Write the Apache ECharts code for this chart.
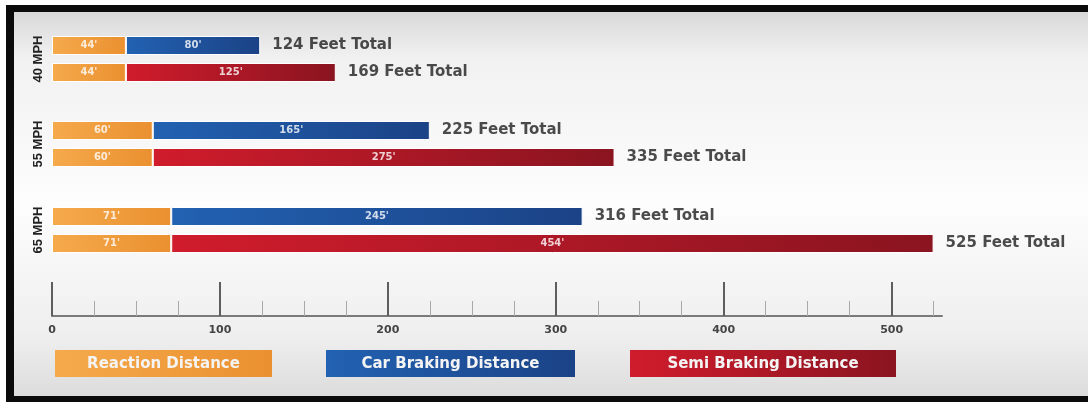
<!DOCTYPE html>
<html>
<head>
<meta charset="utf-8">
<script src="https://cdn.jsdelivr.net/npm/echarts@6/dist/echarts.min.js"></script>
<style>
html, body { margin: 0; padding: 0; background: #fff; }
#chart { width: 1088px; height: 402px; }
</style>
</head>
<body>
<div id="chart"></div>
<script>
"use strict";

var speeds = ['40 MPH', '55 MPH', '65 MPH'];
var vehicles = ['Car', 'Semi'];
var reaction = [44, 60, 71];
var carBraking = [80, 165, 245];
var semiBraking = [125, 275, 454];
var carTotal = [124, 225, 316];
var semiTotal = [169, 335, 525];
var majorTicks = [0, 100, 200, 300, 400, 500];
var minorTicks = [25, 50, 75, 125, 150, 175, 225, 250, 275, 325, 350, 375, 425, 450, 475, 525];
var legendNames = ['Reaction Distance', 'Car Braking Distance', 'Semi Braking Distance'];

var AXIS_MAX = 530;
var GRID_LEFT = 52;
var GRID_WIDTH = 890;
var GROUP_TOPS = [32, 117, 203];

function grad(c0, c1) {
	return new echarts.graphic.LinearGradient(0, 0, 1, 0, [
		{ offset: 0, color: c0 },
		{ offset: 1, color: c1 }
	]);
}

var ORANGE = ['#f5aa4c', '#ea9030'];
var BLUE = ['#2262b2', '#1b4286'];
var RED = ['#d01c2c', '#8a1420'];
var colorSets = [ORANGE, BLUE, RED];

function inLabel(p) {
	return p.value + "'";
}

var grids = [], xAxes = [], yAxes = [], series = [];

for (var i = 0; i < speeds.length; i++) {
	grids.push({ left: GRID_LEFT, width: GRID_WIDTH, top: GROUP_TOPS[i], height: 54 });
	xAxes.push({ type: 'value', gridIndex: i, min: 0, max: AXIS_MAX, show: false });
	yAxes.push({
		type: 'category', gridIndex: i, data: vehicles, inverse: true,
		axisLine: { show: false }, axisTick: { show: false }, axisLabel: { show: false },
		name: speeds[i], nameLocation: 'middle', nameRotate: 90, nameGap: 7,
		nameTextStyle: { color: '#222', fontWeight: 'bold', fontSize: 13, fontFamily: 'Liberation Sans' }
	});

	var barLabel = {
		show: true, position: 'inside', formatter: inLabel,
		color: 'rgba(255,255,255,0.8)', fontWeight: 'bold', fontSize: 10, fontFamily: 'DejaVu Sans'
	};

	series.push({
		name: legendNames[0], type: 'bar', xAxisIndex: i, yAxisIndex: i, stack: 'g' + i,
		barWidth: 19, data: [reaction[i], reaction[i]], label: barLabel,
		itemStyle: { color: grad(ORANGE[0], ORANGE[1]), borderColor: '#fff', borderWidth: 1 }
	});
	series.push({
		name: legendNames[1], type: 'bar', xAxisIndex: i, yAxisIndex: i, stack: 'g' + i,
		barWidth: 19, data: [carBraking[i], '-'], label: barLabel,
		itemStyle: { color: grad(BLUE[0], BLUE[1]), borderColor: '#fff', borderWidth: 1 }
	});
	series.push({
		name: legendNames[2], type: 'bar', xAxisIndex: i, yAxisIndex: i, stack: 'g' + i,
		barWidth: 19, data: ['-', semiBraking[i]], label: barLabel,
		itemStyle: { color: grad(RED[0], RED[1]), borderColor: '#fff', borderWidth: 1 }
	});
	// total labels at the end of each stack
	series.push({
		type: 'scatter', xAxisIndex: i, yAxisIndex: i, silent: true,
		symbolSize: 0, itemStyle: { color: 'transparent' },
		data: [[carTotal[i], vehicles[0]], [semiTotal[i], vehicles[1]]],
		label: {
			show: true, position: 'right', distance: 12,
			formatter: function(p) { return p.value[0] + ' Feet Total'; },
			color: '#1e1e1e', fontWeight: 'bold', fontSize: 15, fontFamily: 'DejaVu Sans'
		}
	});
}

// scale grids: major ticks + labels, and minor ticks on an overlaid grid
grids.push({ left: GRID_LEFT, width: GRID_WIDTH, top: 282, height: 34 });
grids.push({ left: GRID_LEFT, width: GRID_WIDTH, top: 282, height: 34 });
xAxes.push({
	type: 'value', gridIndex: 3, min: 0, max: AXIS_MAX,
	axisLine: { show: true, lineStyle: { color: '#7a7a7a', width: 2 } },
	axisTick: { show: true, inside: true, length: 34, customValues: majorTicks, lineStyle: { color: '#5e5e5e', width: 2 } },
	axisLabel: { customValues: majorTicks, color: '#444', fontWeight: 'bold', fontSize: 11, margin: 9, fontFamily: 'DejaVu Sans' },
	splitLine: { show: false }
});
xAxes.push({
	type: 'value', gridIndex: 4, min: 0, max: AXIS_MAX,
	axisLine: { show: false },
	axisTick: { show: true, inside: true, length: 15, customValues: minorTicks, lineStyle: { color: '#a8a8a8', width: 1 } },
	axisLabel: { show: false },
	splitLine: { show: false }
});
yAxes.push({ type: 'value', gridIndex: 3, show: false });
yAxes.push({ type: 'value', gridIndex: 4, show: false });
series.push({ type: 'scatter', xAxisIndex: 3, yAxisIndex: 3, data: [] });
series.push({ type: 'scatter', xAxisIndex: 4, yAxisIndex: 4, data: [] });

// legend boxes
var legendBoxes = [
	{ x: 55, w: 217 },
	{ x: 326, w: 249 },
	{ x: 630, w: 266 }
];
var legendGraphics = legendBoxes.map(function(b, k) {
	return {
		type: 'group', x: b.x, y: 350, z: 10,
		children: [
			{ type: 'rect', shape: { x: 0, y: 0, width: b.w, height: 27 },
				style: { fill: grad(colorSets[k][0], colorSets[k][1]) } },
			{ type: 'text', x: b.w / 2, y: 14,
				style: { text: legendNames[k], fill: '#f4f4f4', align: 'center', verticalAlign: 'middle',
					font: 'bold 15px "DejaVu Sans"' } }
		]
	};
});

var chart = echarts.init(document.getElementById('chart'));
chart.setOption({
	animation: false,
	backgroundColor: '#fff',
	graphic: [
		{ type: 'rect', z: -10, shape: { x: 6, y: 5, width: 1100, height: 410 }, style: { fill: '#0b0b0b' } },
		{ type: 'rect', z: -9, shape: { x: 14, y: 12, width: 1090, height: 384 },
			style: { fill: new echarts.graphic.LinearGradient(0, 0, 0, 1, [
				{ offset: 0, color: '#d9d9d9' },
				{ offset: 0.12, color: '#f1f1f1' },
				{ offset: 0.5, color: '#fdfdfd' },
				{ offset: 0.85, color: '#eeeeee' },
				{ offset: 1, color: '#dcdcdc' }
			]) } }
	].concat(legendGraphics),
	grid: grids,
	xAxis: xAxes,
	yAxis: yAxes,
	series: series
});
</script>
</body>
</html>
